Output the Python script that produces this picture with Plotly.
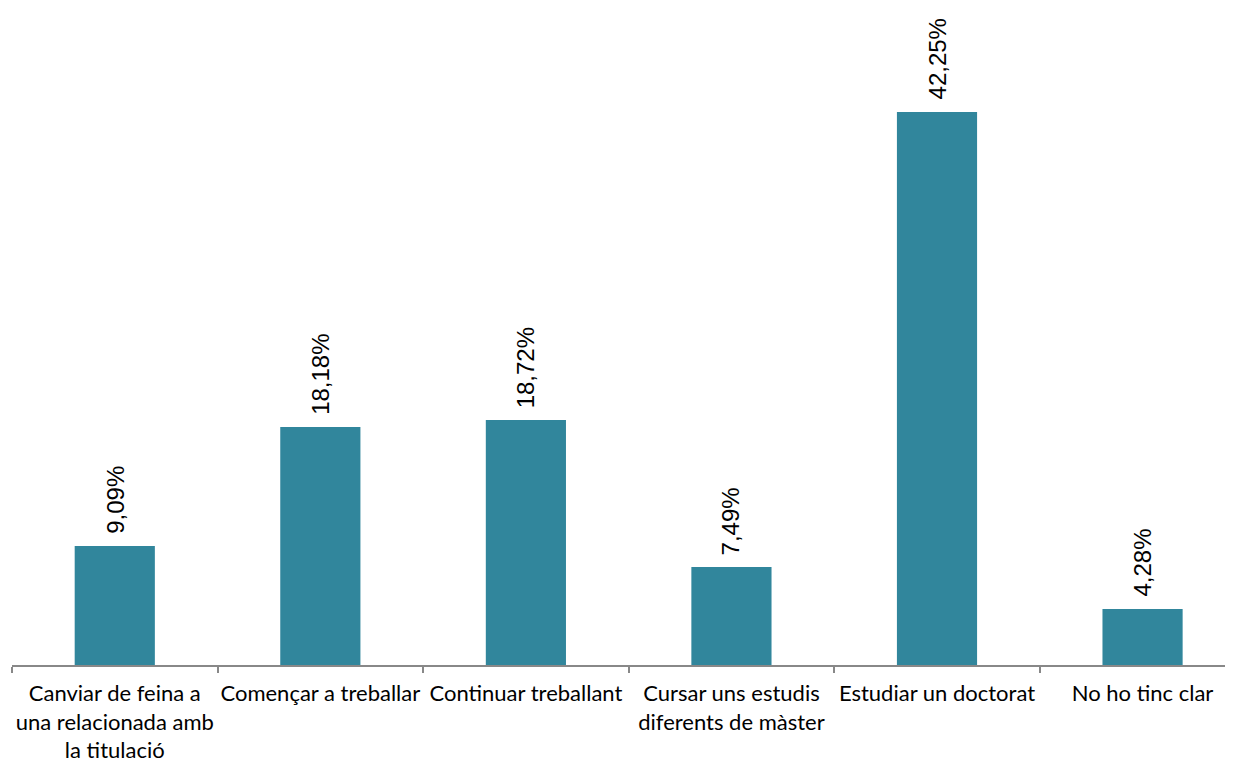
import plotly.graph_objects as go

categories = [
    "Canviar de feina a<br>una relacionada amb<br>la titulació",
    "Començar a treballar",
    "Continuar treballant",
    "Cursar uns estudis<br>diferents de màster",
    "Estudiar un doctorat",
    "No ho tinc clar",
]
values = [9.09, 18.18, 18.72, 7.49, 42.25, 4.28]
labels = [f"{v:.2f}".replace(".", ",") + "%" for v in values]

fig = go.Figure()
fig.add_trace(go.Bar(
    x=categories, y=values, width=0.39,
    marker=dict(color="#31869C", line=dict(width=0)),
    hoverinfo="skip",
))
for c, v, t in zip(categories, values, labels):
    fig.add_annotation(
        x=c, y=v, text=t, textangle=-90, showarrow=False,
        xanchor="center", yanchor="bottom", yshift=10,
        font=dict(family="Liberation Sans, Arial", size=24, color="#000000"),
    )

fig.update_layout(
    width=1225, height=757,
    margin=dict(l=4, r=0, t=2, b=100, autoexpand=False),
    paper_bgcolor="white", plot_bgcolor="white",
    showlegend=False,
    xaxis=dict(
        type="category", range=[-0.5, 5.44], automargin=False,
        showline=True, linecolor="#888888", linewidth=1.5,
        ticks="outside", tickson="boundaries", ticklen=6, tickcolor="#888888", tickwidth=1.5,
        tickangle=0, ticklabelstandoff=8,
        tickfont=dict(family="Lato, Calibri, sans-serif", size=22, color="#000000"),
        showgrid=False, zeroline=False, fixedrange=True,
    ),
    yaxis=dict(
        range=[0, 50.04], visible=False, showgrid=False, zeroline=False, fixedrange=True,
    ),
)

fig.write_html("out.html")
